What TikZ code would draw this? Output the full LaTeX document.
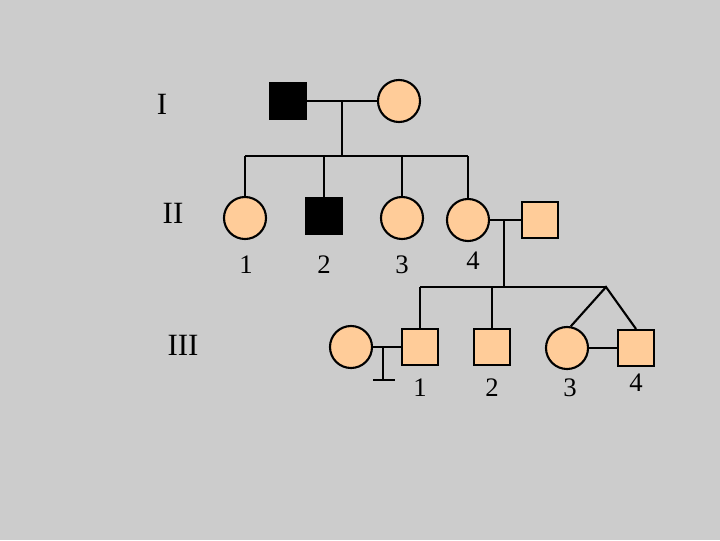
\documentclass[tikz,border=0pt]{standalone}
\usepackage{fontspec}
\setmainfont{Liberation Serif}
\definecolor{bgray}{RGB}{204,204,204}
\definecolor{peach}{RGB}{255,204,153}
\tikzset{
  male/.style={draw,rectangle,fill=peach,minimum size=0.9cm,inner sep=0pt},
  female/.style={draw,circle,fill=peach,minimum size=1.05cm,inner sep=0pt},
  affected/.style={fill=black},
  gen/.style={font=\fontsize{22}{26}\selectfont},
  num/.style={font=\fontsize{19}{23}\selectfont}
}

\begin{document}
\begin{tikzpicture}[x=0.025cm,y=-0.025cm,line width=1.5pt]
  \fill[bgray] (0,0) rectangle (720,540);

  % generation I
  \node[male,affected] (I1) at (288,101) {};
  \node[female] (I2) at (399,101) {};
  \draw (I1) -- (I2);
  \coordinate (M1) at (342,101);
  \coordinate (S1) at (342,156);
  \draw (M1) -- (S1);

  % generation II
  \node[female] (II1) at (245,218) {};
  \node[male,affected] (II2) at (324,216) {};
  \node[female] (II3) at (402,218) {};
  \node[female] (II4) at (468,220) {};
  \node[male] (II5) at (540,220) {};
  \draw (II1 |- S1) -- (II4 |- S1);
  \draw (II1) -- (II1 |- S1);
  \draw (II2) -- (II2 |- S1);
  \draw (II3) -- (II3 |- S1);
  \draw (II4) -- (II4 |- S1);
  \draw (II4) -- (II5);
  \coordinate (M2) at (504,220);
  \coordinate (S2) at (504,287);
  \draw (M2) -- (S2);

  % generation III
  \node[female] (IIIs) at (351,347) {};
  \node[male] (III1) at (420,347) {};
  \node[male] (III2) at (492,347) {};
  \node[female] (III3) at (567,348) {};
  \node[male] (III4) at (636,348) {};
  \coordinate (Tw) at (606,287);
  \draw (III1 |- S2) -- (Tw);
  \draw (III1) -- (III1 |- S2);
  \draw (III2) -- (III2 |- S2);
  \draw (III3.80) -- (Tw) -- (III4.north);
  \draw (III3) -- (III4);
  \draw (IIIs) -- (III1);
  \coordinate (M3) at (383,347);
  \coordinate (N3) at (383,380);
  \draw (M3) -- (N3);
  \draw (N3) ++(-10,0) -- ++(22,0);

  % labels
  \node[gen] (LI) at (162,104) {I};
  \node[gen] (LII) at (173,213) {II};
  \node[gen] (LIII) at (183,345) {III};
  \node[num] (n21) at (246,265) {1};
  \node[num] (n22) at (324,265) {2};
  \node[num] (n23) at (402,265) {3};
  \node[num] (n24) at (473,261) {4};
  \node[num] (n31) at (420,388) {1};
  \node[num] (n32) at (492,388) {2};
  \node[num] (n33) at (570,388) {3};
  \node[num] (n34) at (636,383) {4};
\end{tikzpicture}
\end{document}
